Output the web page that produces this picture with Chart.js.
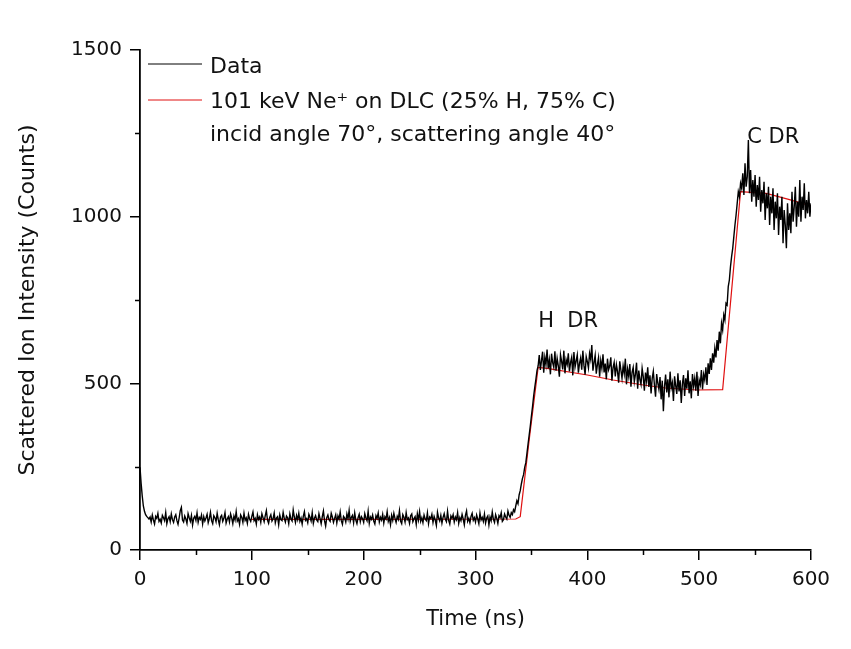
<!DOCTYPE html>
<html>
<head>
<meta charset="utf-8">
<script src="https://cdn.jsdelivr.net/npm/chart.js@4.4.1/dist/chart.umd.min.js"></script>
<style>
  html, body { margin: 0; padding: 0; background: #fff; }
  #c { display: block; }
</style>
</head>
<body>
<canvas id="c" width="851" height="649"></canvas>
<script>
// ---- Data ----
const dataStartNs = 0;
const dataStepNs = 1;
// 0 .. 330 ns
const dataCountsBaseline = [
  248, 200, 162, 132, 116, 106, 101, 97, 93, 99,
  84, 105, 90, 78, 101, 95, 110, 86, 92, 81,
  104, 97, 88, 112, 79, 94, 100, 85, 108, 91,
  83, 99, 106, 88, 77, 96, 118, 128, 90, 84,
  102, 93, 80, 109, 97, 86, 104, 75, 95, 101,
  89, 111, 83, 98, 92, 105, 78, 100, 87, 96,
  107, 82, 94, 113, 88, 79, 103, 97, 85, 110,
  91, 76, 99, 104, 86, 95, 112, 81, 93, 100,
  84, 108, 96, 79, 102, 90, 115, 87, 94, 77,
  105, 98, 83, 110, 89, 96, 80, 107, 93, 86,
  101, 114, 88, 95, 78, 106, 92, 99, 83, 109,
  97, 85, 103, 118, 90, 80, 98, 106, 87, 94,
  111, 82, 96, 100, 76, 105, 91, 88, 113, 95,
  84, 102, 97, 79, 108, 93, 87, 120, 99, 83,
  104, 91, 110, 86, 96, 78, 101, 115, 89, 94,
  82, 107, 98, 87, 112, 80, 95, 103, 90, 85,
  109, 94, 79, 100, 117, 88, 72, 97, 105, 91,
  86, 110, 99, 83, 95, 106, 81, 102, 92, 114,
  88, 77, 101, 96, 84, 108, 93, 119, 86, 98,
  104, 82, 111, 90, 79, 97, 107, 85, 100, 94,
  83, 109, 96, 88, 116, 80, 99, 92, 105, 87,
  78, 103, 95, 111, 84, 98, 90, 107, 81, 100,
  93, 115, 86, 97, 76, 104, 89, 110, 95, 83,
  101, 92, 118, 87, 79, 106, 98, 84, 112, 91,
  96, 80, 103, 108, 85, 94, 100, 77, 109, 90,
  115, 86, 97, 82, 105, 93, 88, 111, 79, 99,
  94, 107, 83, 101, 90, 74, 113, 96, 87, 104,
  81, 98, 109, 92, 85, 116, 89, 78, 102, 95,
  106, 84, 99, 91, 112, 80, 97, 88, 107, 93,
  76, 104, 117, 86, 95, 82, 101, 110, 89, 97,
  84, 105, 93, 79, 111, 90, 98, 86, 108, 81,
  96, 102, 75, 99, 88, 114, 92, 83, 106, 95,
  80, 103, 97, 112, 86, 91, 108, 99, 93, 117,
  104
];
// 331 .. 510 ns (H DR edge and plateau)
const dataCountsHRegion = [
  98, 112, 106, 121, 115, 132, 148, 139, 165, 178,
  198, 215, 226, 248, 262, 290, 318, 345, 372, 402,
  430, 462, 488, 512, 538, 552, 585, 540, 568, 595,
  532, 578, 556, 601, 545, 570, 527, 589, 562, 548,
  596, 538, 575, 553, 520, 586, 566, 542, 598, 530,
  571, 557, 590, 536, 563, 578, 524, 594, 549, 567,
  585, 532, 560, 576, 541, 598, 553, 526, 580, 565,
  546, 590, 572, 615, 538, 562, 584, 529, 556, 577,
  520, 568, 545, 587, 533, 559, 512, 574, 541, 552,
  578, 508, 547, 563, 521, 556, 535, 502, 566, 540,
  515, 552, 529, 574, 497, 543, 521, 558, 490, 533,
  548, 505, 527, 562, 484, 538, 512, 497, 545, 520,
  478, 532, 506, 548, 489, 524, 470, 515, 536, 495,
  460, 528, 501, 482, 519, 452, 508, 416, 490, 526,
  473, 512, 458, 535, 486, 502, 447, 521, 493, 468,
  530, 476, 509, 441, 498, 525, 462, 515, 484, 539,
  470, 506, 455, 528, 492, 515, 478, 535, 462, 510,
  496, 540, 482, 527, 510, 548, 495, 560, 528, 575
];
// 511 .. 600 ns (C DR edge and plateau)
const dataCountsCRegion = [
  540, 590, 562, 605, 578, 630, 598, 655, 620, 680,
  660, 705, 690, 740, 735, 790, 810, 850, 880, 905,
  940, 975, 1005, 1040, 1075, 1060, 1100, 1085, 1130, 1065,
  1160, 1090, 1120, 1230, 1070, 1140, 1045, 1110, 1060, 1125,
  1030, 1095, 1050, 1120, 1015, 1080, 1040, 1105, 990, 1070,
  1025, 1090, 975, 1060, 1010, 1085, 960, 1045, 995, 1070,
  945, 1030, 990, 1060, 920, 1020, 975, 905, 1040, 960,
  1010, 950, 1075, 985, 1030, 1090, 970, 1045, 1000, 1110,
  985, 1060, 1020, 1100, 995, 1050, 1010, 1075, 1000, 1040
];

// Simulation (red curve)
const fitTimes  = [100, 200, 336, 340, 348, 356, 364, 400, 423, 450, 470, 498, 521, 537, 560, 580, 600];
const fitCounts = [ 92,  92,  93, 100, 330, 548, 545, 525, 510, 495, 486, 480, 481, 1075, 1070, 1052, 1032];

const seriesLabels = ['Data', '101 keV Ne\u207A on DLC (25% H, 75% C)'];
const legendNote = 'incid angle 70\u00B0, scattering angle 40\u00B0';

const annotationTexts = ['H  DR', 'C DR'];
const annotationX = [356, 543];
const annotationY = [669, 1221];

const xTicks = [0, 100, 200, 300, 400, 500, 600];
const xMinorTicks = [50, 150, 250, 350, 450, 550];
const yTicks = [0, 500, 1000, 1500];
const yMinorTicks = [250, 750, 1250];

// ---- build points ----
const dataCounts = dataCountsBaseline.concat(dataCountsHRegion, dataCountsCRegion);
const dataPoints = dataCounts.map((v, i) => ({ x: dataStartNs + i * dataStepNs, y: v }));
const fitPoints = fitTimes.map((t, i) => ({ x: t, y: fitCounts[i] }));

const FONT = "'DejaVu Sans', 'Liberation Sans', Arial, sans-serif";
const TXT = '#111';

const extras = {
  id: 'extras',
  afterDraw(chart) {
    const ctx = chart.ctx;
    const xs = chart.scales.x, ys = chart.scales.y;
    const area = chart.chartArea;
    ctx.save();
    // minor ticks
    ctx.strokeStyle = '#000';
    ctx.lineWidth = 1.5;
    ctx.beginPath();
    xMinorTicks.forEach(v => {
      const px = Math.round(xs.getPixelForValue(v)) + 0.5;
      ctx.moveTo(px, area.bottom);
      ctx.lineTo(px, area.bottom + 5);
    });
    yMinorTicks.forEach(v => {
      const py = Math.round(ys.getPixelForValue(v)) + 0.5;
      ctx.moveTo(area.left, py);
      ctx.lineTo(area.left - 5, py);
    });
    ctx.stroke();

    // legend
    const lx0 = area.left + 8, lx1 = area.left + 62, tx = area.left + 70;
    ctx.lineWidth = 1;
    ctx.strokeStyle = '#000';
    ctx.beginPath(); ctx.moveTo(lx0, area.top + 14); ctx.lineTo(lx1, area.top + 14); ctx.stroke();
    ctx.strokeStyle = '#e01010';
    ctx.beginPath(); ctx.moveTo(lx0, area.top + 50); ctx.lineTo(lx1, area.top + 50); ctx.stroke();
    ctx.fillStyle = TXT;
    ctx.font = '22px ' + FONT;
    ctx.textAlign = 'left';
    ctx.textBaseline = 'alphabetic';
    ctx.fillText(seriesLabels[0], tx, area.top + 23);
    ctx.fillText(seriesLabels[1], tx, area.top + 58);
    ctx.fillText(legendNote, tx, area.top + 91);

    // annotations
    ctx.font = '21px ' + FONT;
    annotationTexts.forEach((t, i) => {
      ctx.fillText(t, xs.getPixelForValue(annotationX[i]), ys.getPixelForValue(annotationY[i]));
    });
    ctx.restore();
  }
};

new Chart(document.getElementById('c'), {
  type: 'line',
  data: {
    datasets: [
      { label: seriesLabels[0], data: dataPoints, borderColor: '#000', borderWidth: 1.4, pointRadius: 0, tension: 0 },
      { label: seriesLabels[1], data: fitPoints, borderColor: '#e01010', borderWidth: 1.2, pointRadius: 0, tension: 0 }
    ]
  },
  options: {
    responsive: false,
    animation: false,
    events: [],
    layout: { padding: { left: 0, right: 40, top: 50, bottom: 0 } },
    plugins: { legend: { display: false }, tooltip: { enabled: false } },
    scales: {
      x: {
        type: 'linear', min: 0, max: 600,
        afterFit: s => { s.height = 99; },
        afterBuildTicks: s => { s.ticks = xTicks.map(v => ({ value: v })); },
        ticks: { font: { family: FONT, size: 20 }, color: TXT, padding: 8, maxRotation: 0, callback: v => String(v) },
        grid: { display: true, drawOnChartArea: false, drawTicks: true, tickLength: 10, color: '#000', lineWidth: 1.5 },
        border: { display: true, color: '#000', width: 1.8 },
        title: { display: true, text: 'Time (ns)', font: { family: FONT, size: 21 }, color: TXT, padding: { top: 0, bottom: 17 } }
      },
      y: {
        type: 'linear', min: 0, max: 1500,
        afterFit: s => { s.width = 140; },
        afterBuildTicks: s => { s.ticks = yTicks.map(v => ({ value: v })); },
        ticks: { font: { family: FONT, size: 20 }, color: TXT, padding: 8, callback: v => String(v) },
        grid: { display: true, drawOnChartArea: false, drawTicks: true, tickLength: 10, color: '#000', lineWidth: 1.5 },
        border: { display: true, color: '#000', width: 1.8 },
        title: { display: true, text: 'Scattered Ion Intensity (Counts)', font: { family: FONT, size: 22 }, color: TXT, padding: { top: 15, bottom: 0 } }
      }
    }
  },
  plugins: [extras]
});
</script>
</body>
</html>
